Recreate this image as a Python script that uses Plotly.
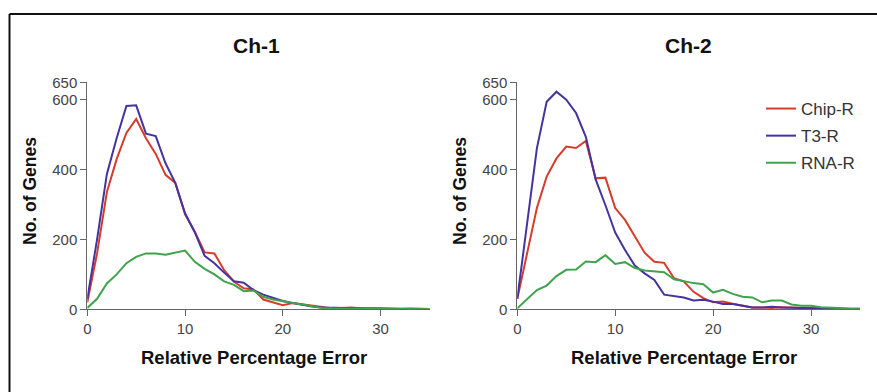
import plotly.graph_objects as go

W, H = 877, 392

x_vals = list(range(0, 36))

ch1_chip = [20, 160, 335, 430, 505, 545, 490, 445, 385, 362, 272, 222, 163, 160, 112, 79, 60, 57, 28, 20,
            12, 18, 14, 10, 5, 3, 4, 5, 3, 2, 2, 2, 1, 2, 1, 1]
ch1_t3 = [30, 200, 387, 490, 582, 584, 503, 496, 418, 362, 275, 220, 153, 132, 105, 80, 76, 55, 42, 33,
          24, 18, 12, 8, 5, 4, 3, 3, 2, 2, 2, 1, 1, 1, 1, 1]
ch1_rna = [4, 30, 74, 100, 132, 150, 160, 160, 156, 162, 168, 136, 116, 100, 80, 70, 52, 54, 36, 28,
           22, 18, 14, 10, 4, 3, 3, 3, 2, 2, 2, 1, 1, 1, 1, 1]

ch2_chip = [30, 165, 290, 380, 432, 466, 462, 482, 375, 377, 290, 256, 208, 162, 136, 133, 89, 80, 50, 32,
            20, 22, 16, 10, 5, 5, 4, 6, 5, 4, 3, 3, 2, 2, 1, 1]
ch2_t3 = [30, 240, 461, 594, 623, 600, 562, 494, 372, 298, 220, 170, 125, 103, 84, 42, 39, 34, 25, 27,
          22, 15, 15, 10, 5, 5, 7, 5, 4, 5, 3, 2, 2, 1, 1, 1]
ch2_rna = [3, 28, 55, 68, 95, 113, 114, 137, 135, 155, 130, 135, 118, 111, 108, 106, 86, 80, 75, 72,
           48, 56, 44, 36, 34, 20, 25, 25, 14, 10, 10, 6, 4, 3, 2, 2]

series_names = ["Chip-R", "T3-R", "RNA-R"]
colors = ["#d63c2c", "#45339f", "#3fa34d"]
panel_titles = ["Ch-1", "Ch-2"]
y_ticks = [0, 200, 400, 600, 650]
x_ticks = [0, 10, 20, 30]

panels = [(ch1_chip, ch1_t3, ch1_rna), (ch2_chip, ch2_t3, ch2_rna)]

FONT = "Liberation Sans, Arial, sans-serif"

fig = go.Figure()
for p, data in enumerate(panels):
    xa = "x" if p == 0 else "x2"
    ya = "y" if p == 0 else "y2"
    for i, ys in enumerate(data):
        fig.add_trace(go.Scatter(
            x=x_vals, y=ys, mode="lines", name=series_names[i],
            line=dict(color=colors[i], width=2),
            xaxis=xa, yaxis=ya, showlegend=(p == 1),
            legendgroup=series_names[i],
        ))

def px_x(v):
    return v / W

def px_y(v):
    return 1 - v / H

axis_common = dict(
    showline=True, linecolor="#666", linewidth=1,
    ticks="outside", ticklen=6, tickcolor="#666", tickwidth=1,
    showgrid=False, zeroline=False, automargin=False,
    tickfont=dict(family=FONT, size=15, color="#444"),
)

dom1 = [px_x(87.3), px_x(429.5)]
dom2 = [px_x(517.3), px_x(860.0)]
ydom = [px_y(309.3), px_y(82.3)]

fig.update_layout(
    width=W, height=H,
    autosize=False,
    margin=dict(l=0, r=0, t=0, b=0, pad=0, autoexpand=False),
    paper_bgcolor="white", plot_bgcolor="white",
    font=dict(family=FONT, color="#222"),
    xaxis=dict(domain=dom1, range=[0, 35], tickvals=x_ticks, anchor="y", **axis_common),
    yaxis=dict(domain=ydom, range=[0, 650], tickvals=y_ticks, anchor="x", **axis_common),
    xaxis2=dict(domain=dom2, range=[0, 35], tickvals=x_ticks, anchor="y2", **axis_common),
    yaxis2=dict(domain=ydom, range=[0, 650], tickvals=y_ticks, anchor="x2", **axis_common),
    legend=dict(
        x=px_x(761), y=px_y(91), xanchor="left", yanchor="top",
        font=dict(family=FONT, size=17, color="#333"),
        bgcolor="rgba(0,0,0,0)", tracegroupgap=2,
    ),
    showlegend=True,
)

annotations = []
title_font = dict(family=FONT, size=21, color="#111")
xt_font = dict(family=FONT, size=18.5, color="#111")
yt_font = dict(family=FONT, size=17.5, color="#111")
for p, (tx, xt, yl) in enumerate([(256, 254, 30), (688, 684, 460)]):
    annotations.append(dict(text="<b>%s</b>" % panel_titles[p], x=px_x(tx), y=px_y(46),
                            xref="paper", yref="paper", showarrow=False, font=title_font,
                            xanchor="center", yanchor="middle"))
    annotations.append(dict(text="<b>Relative Percentage Error</b>", x=px_x(xt), y=px_y(357),
                            xref="paper", yref="paper", showarrow=False, font=xt_font,
                            xanchor="center", yanchor="middle"))
    annotations.append(dict(text="<b>No. of Genes</b>", x=px_x(yl), y=px_y(191), textangle=-90,
                            xref="paper", yref="paper", showarrow=False, font=yt_font,
                            xanchor="center", yanchor="middle"))
fig.update_layout(annotations=annotations)

# partial frame around the figure (top and left edges)
fig.add_shape(type="line", xref="paper", yref="paper",
              x0=px_x(9.5), y0=px_y(14), x1=1.0, y1=px_y(14),
              line=dict(color="#111", width=2))
fig.add_shape(type="line", xref="paper", yref="paper",
              x0=px_x(9.5), y0=px_y(14), x1=px_x(9.5), y1=0.0,
              line=dict(color="#111", width=2))

fig.write_html(
    "out.html",
    config={"displayModeBar": False},
    post_script="document.body.style.margin='0';document.body.style.overflow='hidden';",
)
